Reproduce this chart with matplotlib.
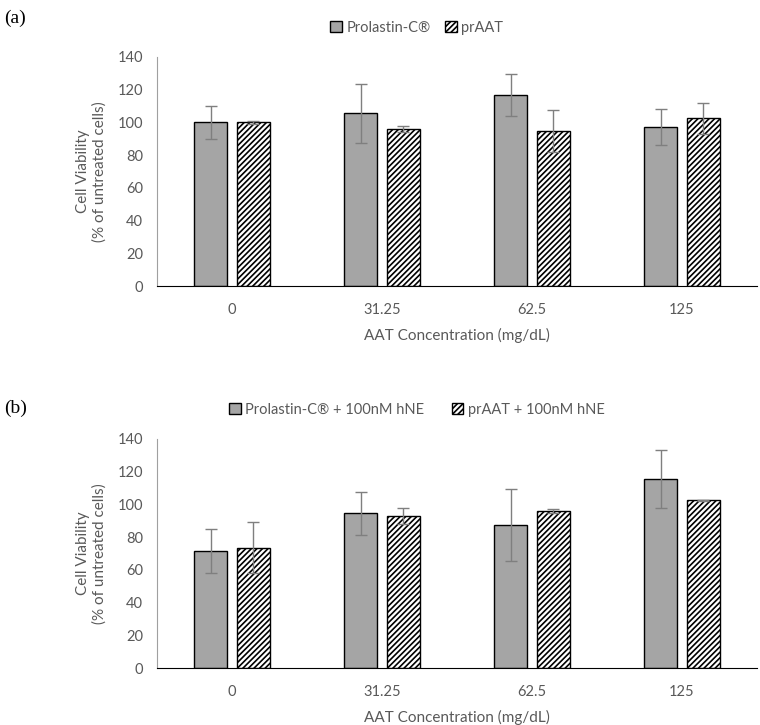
import matplotlib
matplotlib.use('Agg')
import matplotlib.pyplot as plt
import numpy as np

plt.rcParams['font.family'] = ['Lato', 'DejaVu Sans']
plt.rcParams['hatch.linewidth'] = 1.2

concentrations = ["0", "31.25", "62.5", "125"]

# panel (a)
prolastin_a = [100, 105.5, 116.8, 97.5]
prolastin_a_err = [10, 18, 13, 11]
praat_a = [100, 96, 94.5, 102.5]
praat_a_err = [1, 2, 12.8, 9.6]

# panel (b)
prolastin_b = [71.5, 94.5, 87.5, 115.5]
prolastin_b_err = [13.5, 13.3, 22, 17.5]
praat_b = [73.5, 92.8, 96, 102.5]
praat_b_err = [15.7, 5, 1.5, 0.4]

text_gray = '#595959'
bar_gray = '#A5A5A5'
err_gray = '#7F7F7F'

fig = plt.figure(figsize=(7.6, 7.25), dpi=100)

panels = [
    ('(a)', [0.2066, 0.6055, 0.7894, 0.3159], prolastin_a, prolastin_a_err, praat_a, praat_a_err,
     'Prolastin-C\u00ae', 'prAAT', 0.975, 1.0),
    ('(b)', [0.2066, 0.0786, 0.7894, 0.3159], prolastin_b, prolastin_b_err, praat_b, praat_b_err,
     'Prolastin-C\u00ae + 100nM hNE', 'prAAT + 100nM hNE', 0.437, 1.9),
]

ind = np.arange(len(concentrations))
width = 0.22
off = 0.142

for tag, pos, p, pe, r, re_, lab1, lab2, tagy, colsp in panels:
    ax = fig.add_axes(pos)
    ax.bar(ind - off, p, width, color=bar_gray, edgecolor='black', linewidth=1.0, label=lab1, zorder=2)
    ax.bar(ind + off, r, width, color='white', edgecolor='black', hatch='//////', linewidth=1.0,
           label=lab2, zorder=2)
    ax.errorbar(ind - off, p, yerr=pe, fmt='none', ecolor=err_gray, elinewidth=1.0, capsize=4, zorder=3)
    ax.errorbar(ind + off, r, yerr=re_, fmt='none', ecolor=err_gray, elinewidth=1.0, capsize=4, zorder=3)

    ax.set_xlim(-0.5, 3.5)
    ax.set_ylim(0, 140)
    ax.set_yticks(range(0, 141, 20))
    ax.set_xticks(ind)
    ax.set_xticklabels(concentrations)
    ax.tick_params(axis='both', length=0, labelsize=10.5, labelcolor=text_gray)
    ax.tick_params(axis='x', pad=12)
    ax.tick_params(axis='y', pad=10)
    for s in ['top', 'right']:
        ax.spines[s].set_visible(False)
    ax.spines['left'].set_color('#A0A0A0')
    ax.spines['bottom'].set_color('black')
    ax.set_ylabel('Cell Viability\n(% of untreated cells)', fontsize=11, color=text_gray, labelpad=8)
    ax.set_xlabel('AAT Concentration (mg/dL)', fontsize=11, color=text_gray, labelpad=8)

    leg = ax.legend(loc='upper center', bbox_to_anchor=(0.433, 1.215), ncol=2, frameon=False,
                    fontsize=10.5, handlelength=0.8, handleheight=0.8, handletextpad=0.3,
                    columnspacing=colsp)
    for t in leg.get_texts():
        t.set_color(text_gray)

    fig.text(0.005, tagy, tag, fontsize=14, family='Liberation Serif', va='center', ha='left')

fig.savefig('out.png', dpi=100)
